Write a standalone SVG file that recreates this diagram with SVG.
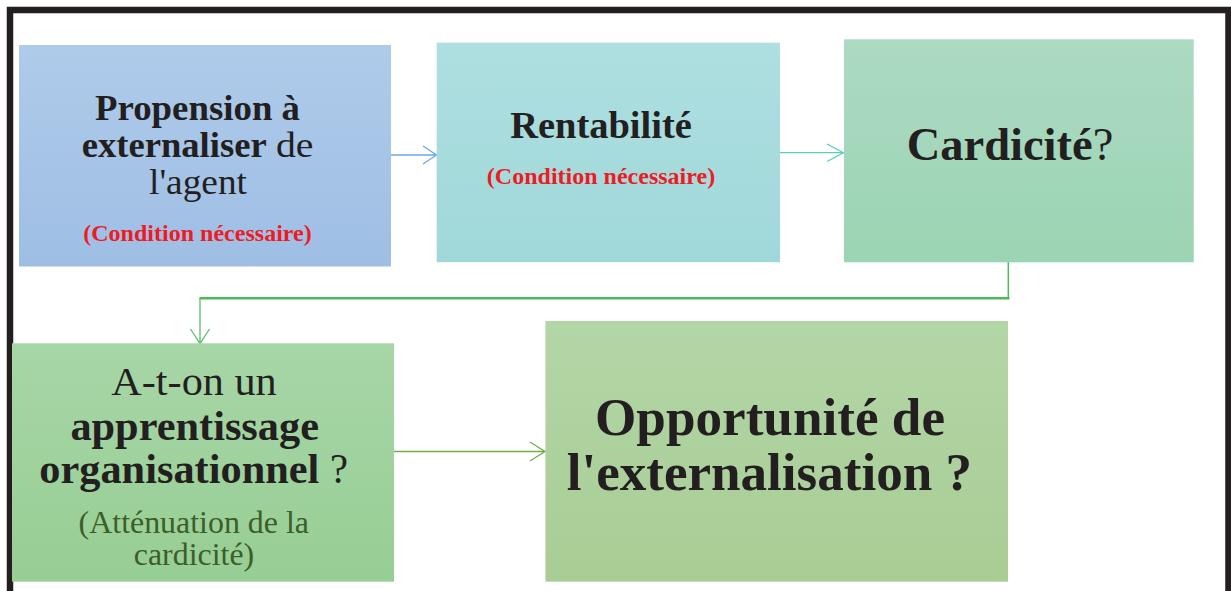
<svg xmlns="http://www.w3.org/2000/svg" width="1231" height="591" viewBox="0 0 1231 591">
<style>
text{font-family:"Liberation Serif","Times New Roman",serif;text-anchor:middle;fill:#231f20}
.b{font-weight:bold}
.s{text-anchor:start}
.red{fill:#ed1c24;font-weight:bold}
.dg{fill:#3b5e2b}
.c{fill:none;stroke-width:1.3}
</style>
<defs>
<linearGradient id="g1" x1="0" y1="0" x2="0" y2="1"><stop offset="0" stop-color="#afcbea"/><stop offset="1" stop-color="#9ebee4"/></linearGradient>
<linearGradient id="g2" x1="0" y1="0" x2="0" y2="1"><stop offset="0" stop-color="#aedfe1"/><stop offset="1" stop-color="#a0d8d9"/></linearGradient>
<linearGradient id="g3" x1="0" y1="0" x2="0" y2="1"><stop offset="0" stop-color="#acdac3"/><stop offset="1" stop-color="#9bd4b3"/></linearGradient>
<linearGradient id="g4" x1="0" y1="0" x2="0" y2="1"><stop offset="0" stop-color="#a7d6a7"/><stop offset="1" stop-color="#97ce94"/></linearGradient>
<linearGradient id="g5" x1="0" y1="0" x2="0" y2="1"><stop offset="0" stop-color="#b3d6a7"/><stop offset="1" stop-color="#a8cd94"/></linearGradient>
</defs>
<rect width="1231" height="591" fill="#ffffff"/>
<path d="M10 591 V10 H1228.5 V591" fill="none" stroke="#231f20" stroke-width="6.5"/>
<g id="connectors">
<path class="c" stroke="#6fa8dc" d="M391 155 H436 M423 146 L436.5 155 L423 164"/>
<path class="c" stroke="#5ccdb8" d="M780 152.7 H843 M827 144 L843.5 152.7 L827 161.5"/>
<path fill="none" stroke="#4cba5c" stroke-width="1.5" d="M1008.3 262 V298.3"/>
<path fill="none" stroke="#4cba5c" stroke-width="2.6" d="M1009.5 298.3 H199.5"/>
<path class="c" stroke="#5cc06a" d="M200 298.3 V343 M190.5 329 L200 343.5 L209.5 329"/>
<path class="c" stroke="#6db04a" d="M394 451.5 H544.5 M530 442 L545 451.5 L530 461"/>
</g>
<g id="node1">
<rect x="19" y="45" width="372" height="221.5" fill="url(#g1)"/>
<text x="197.5" y="120" font-size="35.5" class="b" textLength="205" lengthAdjust="spacingAndGlyphs">Propension à</text>
<text x="81.7" y="156.7" font-size="35.5" class="b s" textLength="185" lengthAdjust="spacingAndGlyphs">externaliser</text>
<text x="276" y="156.7" font-size="35.5" class="s" textLength="37.5" lengthAdjust="spacingAndGlyphs">de</text>
<text x="198" y="193.5" font-size="35.5" textLength="98" lengthAdjust="spacingAndGlyphs">l'agent</text>
<text x="197.5" y="240.5" font-size="24" class="red" textLength="228.5" lengthAdjust="spacingAndGlyphs">(Condition nécessaire)</text>
</g>
<g id="node2">
<rect x="436.7" y="42.7" width="343.3" height="219.5" fill="url(#g2)"/>
<text x="601" y="138.3" font-size="38" class="b" textLength="181.7" lengthAdjust="spacingAndGlyphs">Rentabilité</text>
<text x="601" y="184" font-size="24" class="red" textLength="228.3" lengthAdjust="spacingAndGlyphs">(Condition nécessaire)</text>
</g>
<g id="node3">
<rect x="844" y="39.3" width="349.7" height="223" fill="url(#g3)"/>
<text x="1010" y="160" font-size="46.5"><tspan class="b">Cardicité</tspan>?</text>
</g>
<g id="node4">
<rect x="12" y="343.3" width="382" height="238.4" fill="url(#g4)"/>
<text x="194" y="395" font-size="40" textLength="165.4" lengthAdjust="spacingAndGlyphs">A-t-on un</text>
<text x="194.7" y="440" font-size="42" class="b" textLength="248.6" lengthAdjust="spacingAndGlyphs">apprentissage</text>
<text x="39.3" y="483" font-size="42" class="b s" textLength="280" lengthAdjust="spacingAndGlyphs">organisationnel</text>
<text x="330" y="483" font-size="42" class="s" textLength="18" lengthAdjust="spacingAndGlyphs">?</text>
<text x="193.8" y="533" font-size="31" class="dg" textLength="230.4" lengthAdjust="spacingAndGlyphs">(Atténuation de la</text>
<text x="194" y="565" font-size="31" class="dg" textLength="120.4" lengthAdjust="spacingAndGlyphs">cardicité)</text>
</g>
<g id="node5">
<rect x="545.4" y="321" width="462.6" height="260.7" fill="url(#g5)"/>
<text x="770" y="435" font-size="53" class="b" textLength="350" lengthAdjust="spacingAndGlyphs">Opportunité de</text>
<text x="769.4" y="490" font-size="53" class="b" textLength="405.5" lengthAdjust="spacingAndGlyphs">l'externalisation ?</text>
</g>
</svg>
